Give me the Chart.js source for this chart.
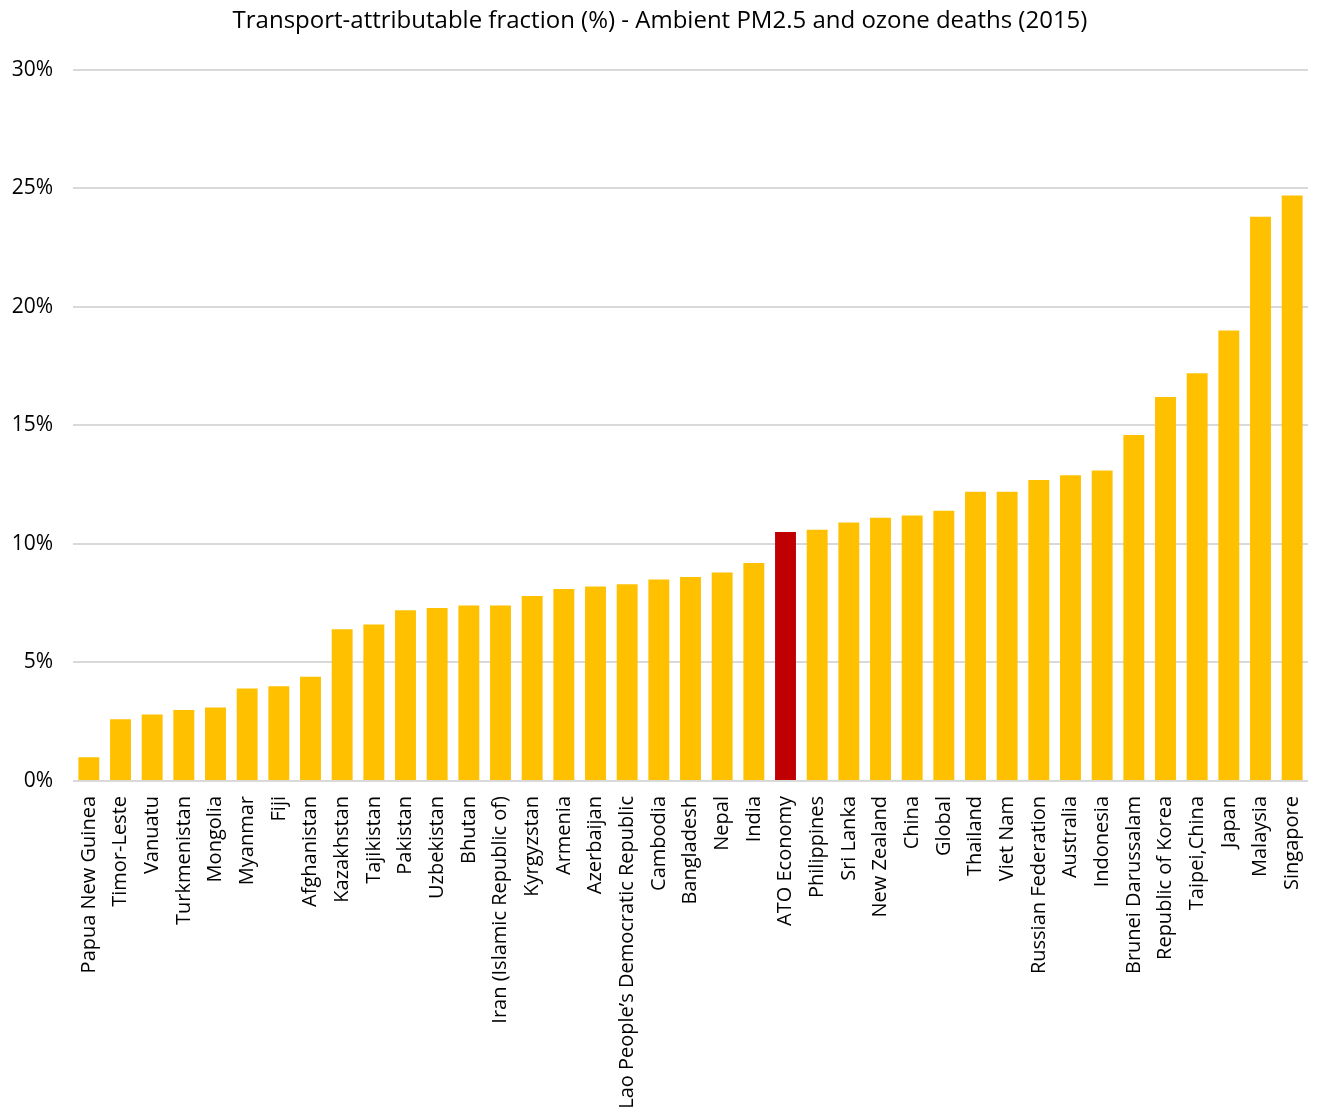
<!DOCTYPE html>
<html>
<head>
<meta charset="utf-8">
<script src="https://cdn.jsdelivr.net/npm/chart.js@4"></script>
<style>
  html, body { margin: 0; padding: 0; background: #fff; }
  #wrap { width: 1319px; height: 1117px; }
</style>
</head>
<body>
<div id="wrap"><canvas id="chart" width="1319" height="1117"></canvas></div>
<script>
// 국가/지역 (x축)
const countries = [
    'Papua New Guinea', 'Timor-Leste', 'Vanuatu', 'Turkmenistan', 'Mongolia',
    'Myanmar', 'Fiji', 'Afghanistan', 'Kazakhstan', 'Tajikistan',
    'Pakistan', 'Uzbekistan', 'Bhutan', 'Iran (Islamic Republic of)', 'Kyrgyzstan',
    'Armenia', 'Azerbaijan', 'Lao People\u2019s Democratic Republic', 'Cambodia', 'Bangladesh',
    'Nepal', 'India', 'ATO Economy', 'Philippines', 'Sri Lanka',
    'New Zealand', 'China', 'Global', 'Thailand', 'Viet Nam',
    'Russian Federation', 'Australia', 'Indonesia', 'Brunei Darussalam', 'Republic of Korea',
    'Taipei,China', 'Japan', 'Malaysia', 'Singapore'
];

// 교통 기인 비율 (%)
const transportFraction = [
    1.0, 2.6, 2.8, 3.0, 3.1,
    3.9, 4.0, 4.4, 6.4, 6.6,
    7.2, 7.3, 7.4, 7.4, 7.8,
    8.1, 8.2, 8.3, 8.5, 8.6,
    8.8, 9.2, 10.5, 10.6, 10.9,
    11.1, 11.2, 11.4, 12.2, 12.2,
    12.7, 12.9, 13.1, 14.6, 16.2,
    17.2, 19.0, 23.8, 24.7
];

const highlightName = 'ATO Economy';
const yTicks = [0, 5, 10, 15, 20, 25, 30];

const barColors = countries.map(c => c === highlightName ? '#C00000' : '#FFC000');

const fontFamily = '"Open Sans", "Noto Sans", sans-serif';

new Chart(document.getElementById('chart'), {
    type: 'bar',
    data: {
        labels: countries,
        datasets: [{
            label: 'Transport-attributable fraction (%)',
            data: transportFraction,
            backgroundColor: barColors,
            borderWidth: 0,
            barPercentage: 0.66,
            categoryPercentage: 1.0
        }]
    },
    options: {
        responsive: false,
        animation: false,
        layout: { padding: { left: 12, right: 11, top: 0, bottom: 0 } },
        plugins: {
            legend: { display: false },
            tooltip: { enabled: false },
            title: {
                display: true,
                text: 'Transport-attributable fraction (%) - Ambient PM2.5 and ozone deaths (2015)',
                color: '#000',
                font: { family: fontFamily, size: 24, weight: 'normal' },
                padding: { top: 7, bottom: 34 }
            }
        },
        scales: {
            x: {
                grid: { display: false, drawTicks: false },
                border: { display: false },
                afterFit: axis => {
                    axis.height = 336;
                    axis.paddingLeft = 0;
                    axis.paddingRight = 0;
                },
                ticks: {
                    color: '#000',
                    font: { family: fontFamily, size: 20 },
                    minRotation: 90,
                    maxRotation: 90,
                    autoSkip: false,
                    padding: 15
                }
            },
            y: {
                min: 0,
                max: 30,
                afterBuildTicks: axis => { axis.ticks = yTicks.map(v => ({ value: v })); },
                afterFit: axis => { axis.width = 61; },
                grid: { color: '#d9d9d9', lineWidth: 2, drawTicks: false },
                border: { display: false },
                ticks: {
                    color: '#000',
                    font: { family: fontFamily, size: 21 },
                    padding: 20,
                    callback: v => v + '%'
                }
            }
        }
    }
});
</script>
</body>
</html>
